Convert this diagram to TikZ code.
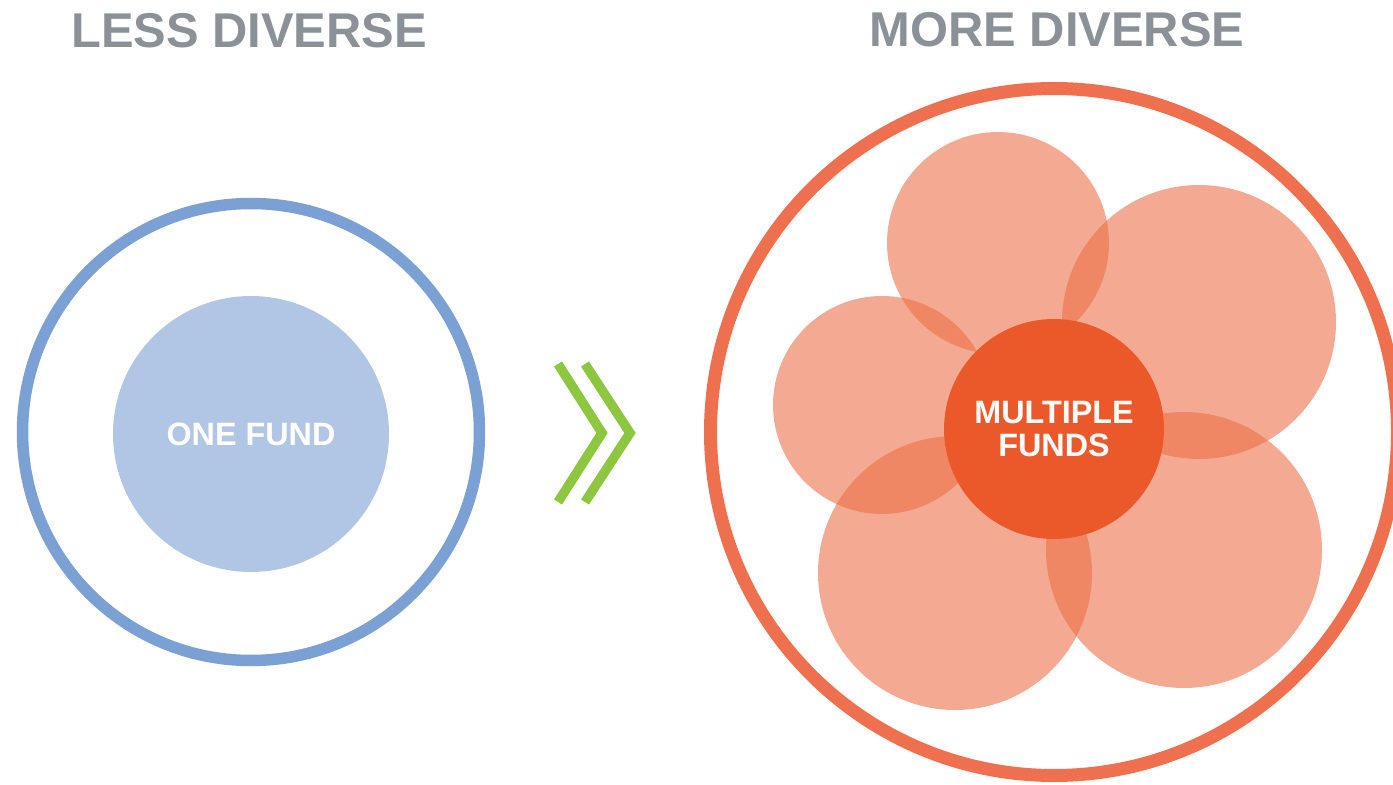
\documentclass[tikz,border=0pt]{standalone}
\usepackage{fontspec}
\setmainfont{Liberation Sans}
\usetikzlibrary{positioning}

\definecolor{headgray}{RGB}{139,145,150}
\definecolor{ringblue}{RGB}{122,160,212}
\definecolor{fundblue}{RGB}{176,198,228}
\definecolor{ringorange}{RGB}{238,112,78}
\definecolor{petalorange}{RGB}{236,111,69}
\definecolor{fundorange}{RGB}{235,89,42}
\definecolor{arrowgreen}{RGB}{141,198,63}

\begin{document}
\begin{tikzpicture}[
  x=0.1mm, y=-0.1mm,
  % headings above the two rings
  heading/.style={
    inner sep=0pt, text=headgray,
    font=\fontsize{13.9}{16}\selectfont\bfseries
  },
  fund/.style={
    circle, inner sep=0pt, align=center, text=white,
    font=\fontsize{9.2}{9.4}\selectfont\bfseries
  },
  petal/.style={fill=petalorange, fill opacity=0.59},
  chevron/.style={draw=arrowgreen, line width=0.95mm, miter limit=4}
]
\useasboundingbox (0,0) rectangle (1393,785);

% Headings
\node[heading] (lessdiv) at (249,31) {LESS DIVERSE};
\node[heading] (morediv) at (1057,30) {MORE DIVERSE};

% Left side: one fund
\draw[ringblue, line width=1.15mm] (251,432) circle[radius=22.85mm];
\node[fund, fill=fundblue, minimum size=27.6mm] (onefund) at (251,434) {ONE FUND};

% Double chevron
\draw[chevron] (558,364) -- (602,433) -- (558,502);
\draw[chevron] (585,364) -- (630,433) -- (585,502);

% Right side: multiple funds
\draw[ringorange, line width=1.3mm] (1054,432) circle[radius=34.35mm];
\foreach \px/\py/\r in {998/243/11.1, 1199/322/13.7, 882/405/10.9,
                        955/573/13.7, 1184/550/13.8}
  \fill[petal] (\px,\py) circle[radius=\r mm];
\node[fund, fill=fundorange, minimum size=22mm] (multifunds) at (1054,429)
  {MULTIPLE\\FUNDS};

\end{tikzpicture}
\end{document}
